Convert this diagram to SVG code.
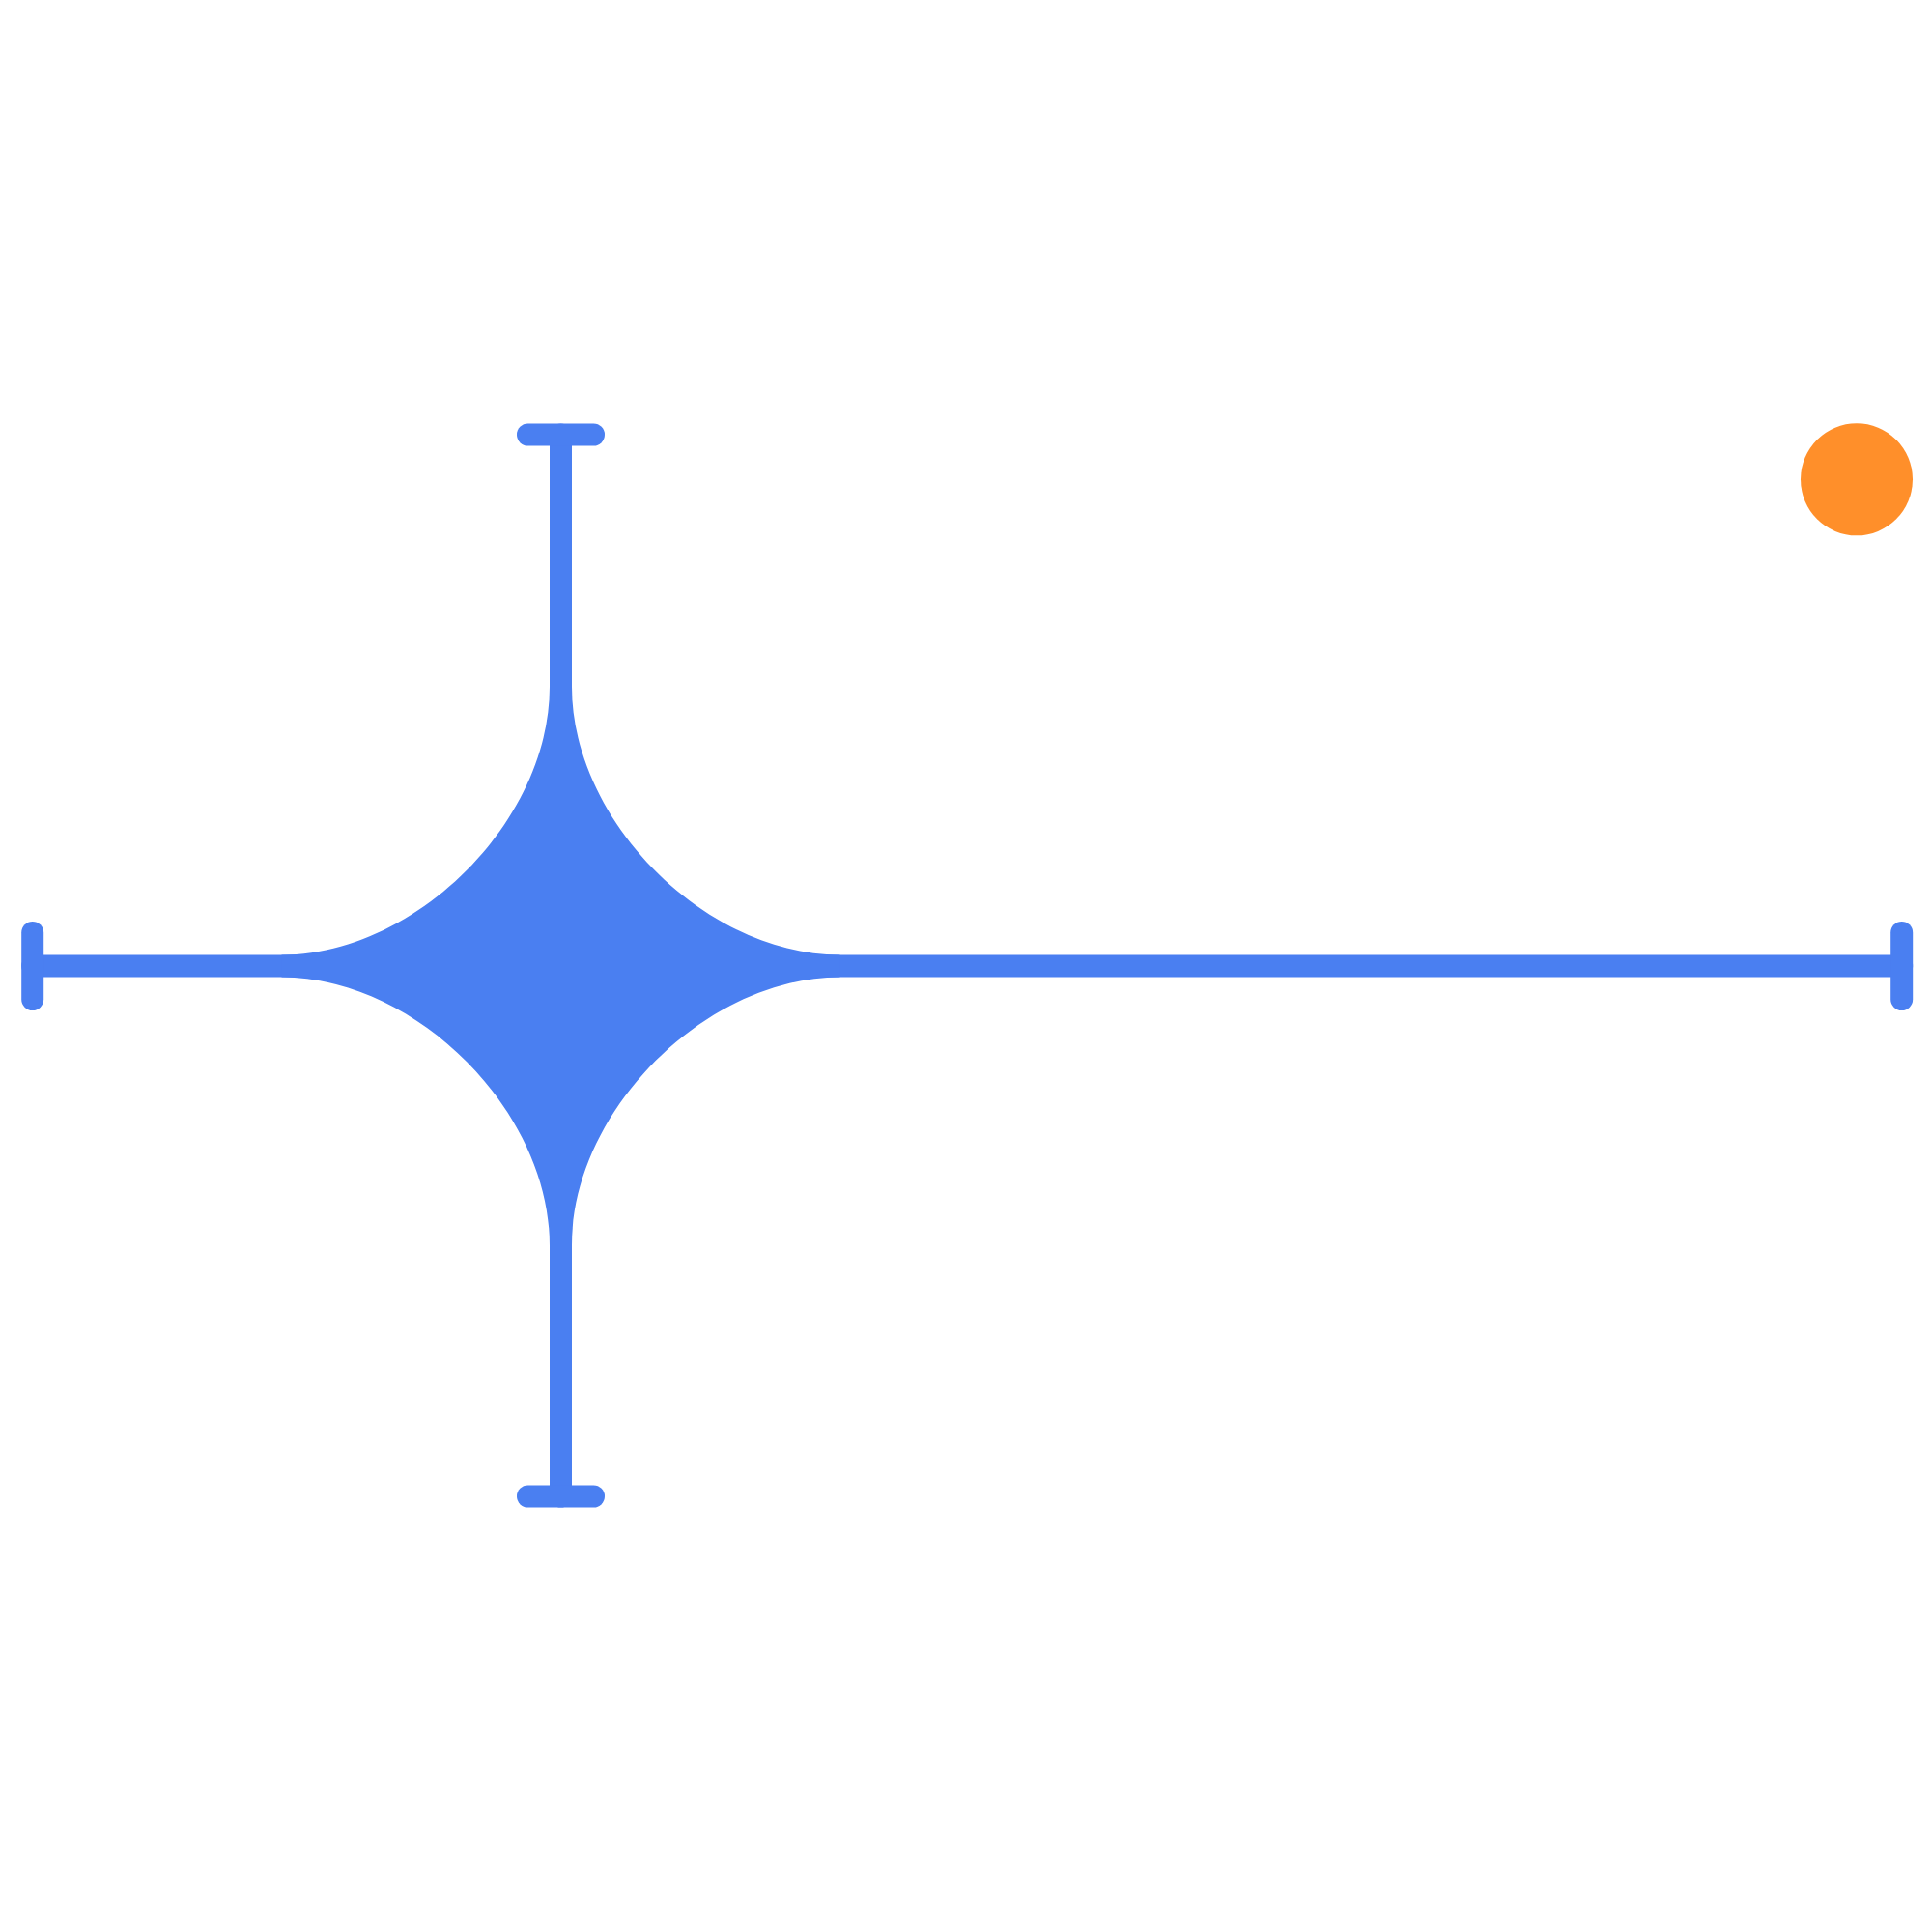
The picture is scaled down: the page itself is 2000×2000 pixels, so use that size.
<svg xmlns="http://www.w3.org/2000/svg" width="2000" height="2000" viewBox="0 0 2000 2000">
<style>
.ln{stroke:#4A7FF1;stroke-width:23;stroke-linecap:round;fill:none}
.fill{fill:#4A7FF1}
</style>
<rect width="2000" height="2000" fill="#FFFFFF"/>
<g id="axes">
<line class="ln" x1="580.5" y1="450" x2="580.5" y2="1549"/>
<line class="ln" x1="546.5" y1="450" x2="614.5" y2="450"/>
<line class="ln" x1="546.5" y1="1549" x2="614.5" y2="1549"/>
<line class="ln" x1="33.7" y1="1000" x2="1968.7" y2="1000"/>
<line class="ln" x1="33.7" y1="965.5" x2="33.7" y2="1034.5"/>
<line class="ln" x1="1968.7" y1="965.5" x2="1968.7" y2="1034.5"/>
</g>
<g id="sparkle">
<path class="fill" d="M569,711 C569,849.75 430.25,988.5 291.5,988.5 L291.5,1011.5 C430.25,1011.5 569,1150.25 569,1289 L592,1289 C592,1150.25 730.75,1011.5 869.5,1011.5 L869.5,988.5 C730.75,988.5 592,849.75 592,711 Z"/>
</g>
<g id="dot">
<circle cx="1922" cy="496.3" r="58" fill="#FF8F2A"/>
</g>
</svg>
